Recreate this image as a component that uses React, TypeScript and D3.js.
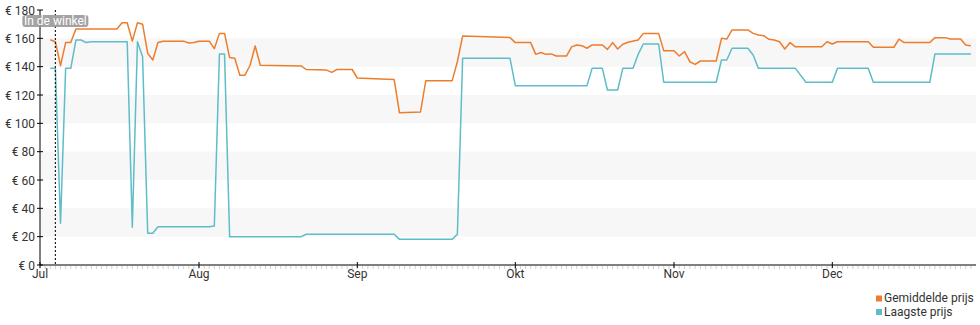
import React from "react";
import * as d3 from "d3";

const monthTicks = ["2023-07-01", "2023-08-01", "2023-09-01", "2023-10-01", "2023-11-01", "2023-12-01"];
const monthLabels = ["Jul", "Aug", "Sep", "Okt", "Nov", "Dec"];
const domainEnd = "2023-12-29";
const yTicks = [0, 20, 40, 60, 80, 100, 120, 140, 160, 180];
const bandRanges: [number, number][] = [[20, 40], [60, 80], [100, 120], [140, 160]];
const storeDate = "2023-07-04";
const storeLabel = "In de winkel";
const avgName = "Gemiddelde prijs";
const lowName = "Laagste prijs";

const avgDates = [
  "07-03","07-04","07-05","07-06","07-07","07-08","07-16","07-17","07-18","07-19","07-20","07-21","07-22","07-23","07-24","07-25","07-29","07-30","07-31",
  "08-01","08-03","08-04","08-05","08-06","08-07","08-08","08-09","08-10","08-11","08-12","08-13","08-21","08-22","08-26","08-27","08-28","08-31",
  "09-01","09-02","09-08","09-09","09-13","09-14","09-19","09-20","09-21","09-30",
  "10-01","10-04","10-05","10-06","10-07","10-08","10-09","10-11","10-12","10-13","10-14","10-15","10-16","10-18","10-19","10-20","10-21","10-22","10-23","10-25","10-26","10-29","10-30",
  "11-01","11-02","11-03","11-04","11-05","11-06","11-09","11-10","11-11","11-12","11-15","11-16","11-17","11-18","11-19","11-20","11-21","11-22","11-23","11-24","11-29","11-30",
  "12-01","12-02","12-08","12-09","12-13","12-14","12-15","12-20","12-21","12-23","12-24","12-26","12-27","12-28",
];
const avgValues = [
  159,157.6,140.7,157,157,166.6,166.6,171,171,158,171,170,149.4,144.7,157,158,158,156.7,157,
  158,158,152.7,163.5,163.5,146.4,146,134,134,141,154.6,141,140.5,138,137.6,136,138,138,
  132,131.8,131,107.5,108,130,130,143.5,161.6,160.5,
  157,157,148.7,150,148.7,149,147.5,147.5,154,155.3,154.8,153,155.3,155.3,152.2,157,152.5,155.8,157.2,158.8,163.5,163.5,151.3,
  151.3,147.5,150.6,143.5,141.6,144,144,160,159.5,165.9,165.9,163.5,162.4,161.9,159.3,158.8,157.6,152.5,157,154,154,157.6,
  156,157.6,157.6,153.7,153.7,159.5,157,157,160.5,160.5,159.5,159.5,155.3,154.8,
];

const lowDates = [
  "07-03","07-04","07-05","07-06","07-07","07-08","07-09","07-10","07-11","07-18","07-19","07-20","07-21","07-22","07-23","07-24",
  "08-03","08-04","08-05","08-06","08-07","08-21","08-22",
  "09-08","09-09","09-19","09-20","09-21","09-30",
  "10-01","10-15","10-16","10-18","10-19","10-21","10-22","10-24","10-25","10-26","10-29","10-30",
  "11-09","11-10","11-11","11-12","11-15","11-16","11-17","11-24","11-26",
  "12-01","12-02","12-08","12-09","12-20","12-21","12-28",
];
const lowValues = [
  138.8,138.8,29.4,138.8,138.8,158.8,158.8,157,157.6,157.6,26.6,157.6,147,22.4,22.4,27,
  27,27.5,149,149,20,20,21.7,
  21.7,18.1,18.1,21.7,145.9,145.9,
  126.6,126.6,138.8,138.8,123.5,123.5,138.8,138.8,148.7,156,156,129,
  129,144.7,144.7,153,153,148.2,138.8,138.8,129,
  129,138.8,138.8,129,129,149,149,
];

const YEAR = "2023";
const parse = d3.utcParse("%Y-%m-%d");

const AVG_COLOR = "#ee7d2b";
const LOW_COLOR = "#5ebdc8";

export default function App() {
  const width = 980;
  const height = 325;
  const left = 40;
  const right = 976;
  const top = 10;
  const bottom = 265;

  const x = d3
    .scaleUtc()
    .domain([...monthTicks, domainEnd].map((s) => parse(s) as Date))
    .range([left, 199, 357.3, 515.3, 674, 832.3, right]);
  const y = d3.scaleLinear().domain([0, 180]).range([bottom, top]);

  type P = { date: Date; v: number };
  const avg: P[] = avgDates.map((d, i) => ({ date: parse(`${YEAR}-${d}`) as Date, v: avgValues[i] }));
  const low: P[] = lowDates.map((d, i) => ({ date: parse(`${YEAR}-${d}`) as Date, v: lowValues[i] }));

  const line = d3
    .line<P>()
    .x((d) => x(d.date))
    .y((d) => y(d.v));

  const start = parse(monthTicks[0]) as Date;
  const end = parse(domainEnd) as Date;
  const days = d3.utcDay.range(start, end);
  const storeX = x(parse(storeDate) as Date);
  const font = "Roboto, 'Noto Sans', sans-serif";

  return (
    <svg
      width={width}
      height={height}
      style={{ position: "absolute", left: 0, top: 0, background: "#fff" }}
      fontFamily={font}
    >
      {bandRanges.map(([lo, hi], i) => (
        <rect key={i} x={left} width={right - left} y={y(hi)} height={y(lo) - y(hi)} fill="#f7f7f7" />
      ))}

      {/* minor day ticks */}
      {days.map((d, i) => (
        <line key={i} x1={x(d)} x2={x(d)} y1={bottom + 1} y2={bottom + 4} stroke="#cfcfcf" strokeWidth={1} />
      ))}

      {/* x axis */}
      <line x1={left} x2={right} y1={bottom} y2={bottom} stroke="#000" strokeWidth={1} />
      {monthTicks.map((m, i) => {
        const xx = x(parse(m) as Date);
        return (
          <g key={m}>
            <line x1={xx} x2={xx} y1={bottom - 3} y2={bottom + 3} stroke="#000" />
            <text x={xx} y={bottom + 13} textAnchor="middle" fontSize={12} fill="#333">
              {monthLabels[i]}
            </text>
          </g>
        );
      })}

      {/* y axis */}
      <line x1={left} x2={left} y1={top} y2={bottom} stroke="#000" strokeWidth={1} />
      {yTicks.map((t) => (
        <g key={t}>
          <line x1={left - 3} x2={left + 3} y1={y(t)} y2={y(t)} stroke="#000" />
          <text x={left - 5} y={y(t) + 4.5} textAnchor="end" fontSize={12} fill="#333">
            {`€ ${t}`}
          </text>
        </g>
      ))}

      {/* lines */}
      <path d={line(low) || ""} fill="none" stroke={LOW_COLOR} strokeWidth={1.5} strokeLinejoin="round" />
      <path d={line(avg) || ""} fill="none" stroke={AVG_COLOR} strokeWidth={1.5} strokeLinejoin="round" />

      {/* store marker */}
      <line x1={storeX} x2={storeX} y1={top} y2={bottom} stroke="#222" strokeWidth={1.2} strokeDasharray="2,2" />
      <rect x={storeX - 33} y={15} width={66} height={12} rx={3} fill="#999" opacity={0.9} />
      <text x={storeX} y={25} textAnchor="middle" fontSize={12} fill="#fff">
        {storeLabel}
      </text>

      {/* legend */}
      <rect x={876} y={295.5} width={6} height={6} fill={AVG_COLOR} />
      <text x={884} y={302} fontSize={12} fill="#333">{avgName}</text>
      <rect x={876} y={309} width={6} height={6} fill={LOW_COLOR} />
      <text x={884} y={315.5} fontSize={12} fill="#333">{lowName}</text>
    </svg>
  );
}
